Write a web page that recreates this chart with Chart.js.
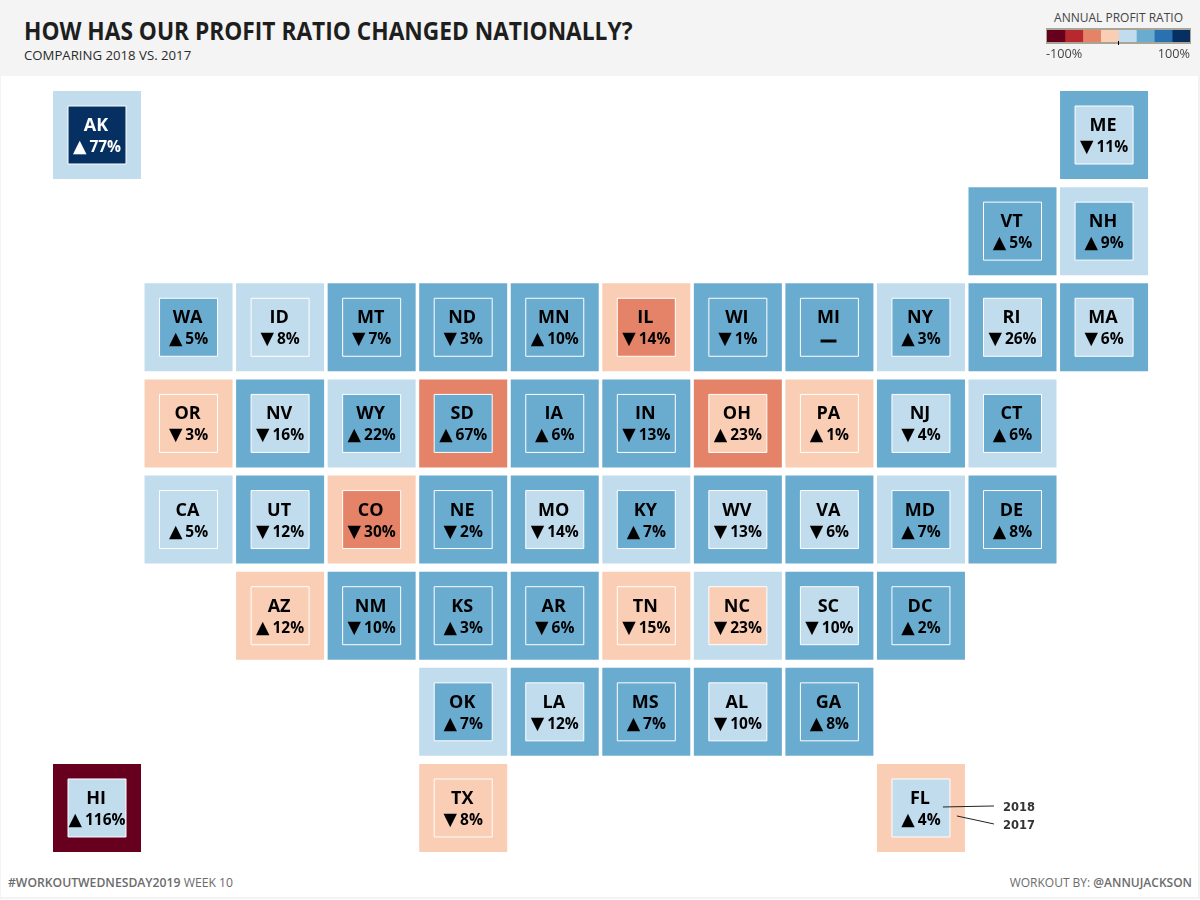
<!DOCTYPE html>
<html>
<head>
<meta charset="utf-8">
<title>Profit ratio tile map</title>
<script src="https://cdn.jsdelivr.net/npm/chart.js@4/dist/chart.umd.min.js"></script>
<style>
  html,body{margin:0;padding:0;background:#fff;}
  body{width:1200px;height:900px;position:relative;overflow:hidden;font-family:'Open Sans',sans-serif;}
  .frame{position:absolute;left:0;top:0;width:1197px;height:897px;border-left:1px solid #f3f3f3;border-right:2px solid #f3f3f3;border-bottom:2px solid #f3f3f3;}
  .head{position:absolute;left:0;top:0;width:1200px;height:76px;background:#f4f4f4;}
  .txt{position:absolute;white-space:nowrap;}
  #title{left:24px;top:13px;font-size:25px;line-height:34px;font-weight:700;color:#1e1e1e;transform:scaleX(.909);transform-origin:left center;}
  #sub{left:24px;top:46px;font-size:13.2px;line-height:18px;color:#2a2a2a;}
  #legendTitle{right:17px;top:9px;font-size:12px;line-height:17px;color:#444;}
  #legendMin{left:1046px;top:45px;font-size:12.7px;line-height:17px;color:#444;}
  #legendMax{right:10px;top:45px;font-size:12.7px;line-height:17px;color:#444;}
  #footL{left:8px;top:874px;font-size:12.2px;line-height:17px;color:#6b6b6b;}
  #footR{right:8px;top:874px;font-size:12px;line-height:17px;color:#6b6b6b;}
  #footL b,#footR b{font-weight:600;}
  #map{position:absolute;left:0;top:0;}
  #legendBox{position:absolute;left:1046px;top:28px;width:143px;height:12px;border:1px solid #a8a496;border-top-width:2px;border-bottom-width:2px;}
  #legendBox canvas{display:block;}
  #legendTick{position:absolute;left:1118px;top:41px;width:1px;height:4px;background:#000;}
</style>
</head>
<body>
<div class="frame"></div>
<div class="head"></div>
<div class="txt" id="title">HOW HAS OUR PROFIT RATIO CHANGED NATIONALLY?</div>
<div class="txt" id="sub">COMPARING 2018 VS. 2017</div>
<div class="txt" id="legendTitle">ANNUAL PROFIT RATIO</div>
<div id="legendBox"><canvas id="legend" width="143" height="12"></canvas></div>
<div id="legendTick"></div>
<div class="txt" id="legendMin">-100%</div>
<div class="txt" id="legendMax">100%</div>
<div class="txt" id="footL"><b>#WORKOUTWEDNESDAY2019</b> WEEK 10</div>
<div class="txt" id="footR">WORKOUT BY: <b>@ANNUJACKSON</b></div>
<canvas id="map" width="1200" height="900"></canvas>
<script>
const palette = ['#67001f','#b8282f','#e58368','#facdb5','#c1dcec','#6aabd0','#2a71b2','#053061'];
const legendEdges = [-100,-75,-50,-25,0,25,50,75,100];

const states  = ['AK','ME','VT','NH','WA','ID','MT','ND','MN','IL','WI','MI','NY','RI','MA','OR','NV','WY','SD','IA','IN','OH','PA','NJ','CT','CA','UT','CO','NE','MO','KY','WV','VA','MD','DE','AZ','NM','KS','AR','TN','NC','SC','DC','OK','LA','MS','AL','GA','HI','TX','FL'];
const columns = [0,11,10,11,1,2,3,4,5,6,7,8,9,10,11,1,2,3,4,5,6,7,8,9,10,1,2,3,4,5,6,7,8,9,10,2,3,4,5,6,7,8,9,4,5,6,7,8,0,4,9];
const rows    = [0,0,1,1,2,2,2,2,2,2,2,2,2,2,2,3,3,3,3,3,3,3,3,3,3,4,4,4,4,4,4,4,4,4,4,5,5,5,5,5,5,5,5,6,6,6,6,6,7,7,7];
// colour bin of the outer square (2017) and inner square (2018)
const bins2017 = [4,5,5,4,4,4,5,5,5,3,5,5,4,5,5,3,5,4,2,5,5,2,3,5,4,4,5,3,5,5,4,5,5,4,5,3,5,5,5,3,4,5,5,4,5,5,5,5,0,3,3];
const bins2018 = [7,4,5,5,5,4,5,5,5,2,5,5,5,4,4,3,4,5,5,5,5,3,3,4,5,4,4,2,5,4,5,4,4,5,5,3,5,5,5,3,3,4,5,5,4,5,4,5,4,3,4];
const changes  = [77,-11,5,9,5,-8,-7,-3,10,-14,-1,0,3,-26,-6,-3,-16,22,67,6,-13,23,1,-4,6,5,-12,-30,-2,-14,7,-13,-6,7,8,12,-10,3,-6,-15,-23,-10,2,7,-12,7,-10,8,116,-8,4];

const tileSize = 88, innerSize = 58;
const points = states.map((s,i)=>({x:columns[i], y:rows[i]}));

const labelPlugin = {
  id:'tileLabels',
  afterDatasetsDraw(chart){
    const {ctx, scales:{x,y}} = chart;
    ctx.save();
    ctx.textBaseline = 'alphabetic';
    states.forEach((s,i)=>{
      const cx = x.getPixelForValue(columns[i]) - 1, cy = y.getPixelForValue(rows[i]);
      ctx.fillStyle = bins2018[i] >= 7 ? '#fff' : '#000';
      ctx.textAlign = 'center';
      ctx.font = "700 18px 'Open Sans'";
      ctx.fillText(s, cx, cy-4);
      if(changes[i] === 0){
        ctx.font = "700 16px 'Open Sans'";
        ctx.strokeStyle = '#000'; ctx.lineWidth = 1.2;
        ctx.fillText('—', cx, cy+18);
        ctx.strokeText('—', cx, cy+18);
        return;
      }
      const arrow = changes[i] > 0 ? '▲' : '▼';
      const pct = Math.abs(changes[i]) + '%';
      ctx.textAlign = 'left';
      ctx.font = "17.5px 'DejaVu Sans'";
      const aw = ctx.measureText(arrow).width;
      ctx.font = "700 15.5px 'Open Sans'";
      const tw = ctx.measureText(pct).width;
      const left = cx - (aw+3+tw)/2 + 1;
      ctx.font = "17.5px 'DejaVu Sans'";
      ctx.fillText(arrow, left, cy+17);
      ctx.font = "700 15.5px 'Open Sans'";
      ctx.fillText(pct, left+aw+3, cy+17);
    });
    // key on the FL tile
    const fx = x.getPixelForValue(9), fy = y.getPixelForValue(7);
    ctx.strokeStyle = '#222'; ctx.lineWidth = 1;
    ctx.beginPath();
    ctx.moveTo(fx+22,fy-1); ctx.lineTo(fx+73,fy-2);
    ctx.moveTo(fx+36,fy+8); ctx.lineTo(fx+73,fy+16);
    ctx.stroke();
    ctx.fillStyle = '#333';
    ctx.textAlign = 'left';
    ctx.font = "700 11.5px 'DejaVu Sans'";
    ctx.fillText('2018', fx+82, fy+3);
    ctx.fillText('2017', fx+82, fy+21);
    ctx.restore();
  }
};

new Chart(document.getElementById('map'), {
  type:'scatter',
  data:{ datasets:[
    { label:'2018', data:points, order:1, pointStyle:'rect', pointRadius:innerSize/Math.SQRT2,
      pointBackgroundColor:bins2018.map(b=>palette[b]), pointBorderColor:'#fff', pointBorderWidth:1 },
    { label:'2017', data:points, order:2, pointStyle:'rect', pointRadius:tileSize/Math.SQRT2,
      pointBackgroundColor:bins2017.map(b=>palette[b]), pointBorderWidth:0 }
  ]},
  options:{
    responsive:false, animation:false, devicePixelRatio:1,
    layout:{padding:0, autoPadding:false},
    plugins:{legend:{display:false}, tooltip:{enabled:false}},
    scales:{
      x:{type:'linear', display:false, min:-97/91.55, max:(1200-97)/91.55},
      y:{type:'linear', display:false, reverse:true, min:-135/96.14, max:(900-135)/96.14}
    }
  },
  plugins:[labelPlugin]
});

new Chart(document.getElementById('legend'), {
  type:'bar',
  data:{ labels:[''], datasets:palette.map((c,i)=>({
    data:[[legendEdges[i],legendEdges[i+1]]], backgroundColor:c, borderWidth:0,
    barPercentage:1, categoryPercentage:1, grouped:false
  }))},
  options:{
    indexAxis:'y', responsive:false, animation:false, devicePixelRatio:1,
    layout:{padding:0, autoPadding:false},
    plugins:{legend:{display:false}, tooltip:{enabled:false}},
    scales:{ x:{display:false, min:-100, max:100}, y:{display:false} }
  }
});
</script>
</body>
</html>
